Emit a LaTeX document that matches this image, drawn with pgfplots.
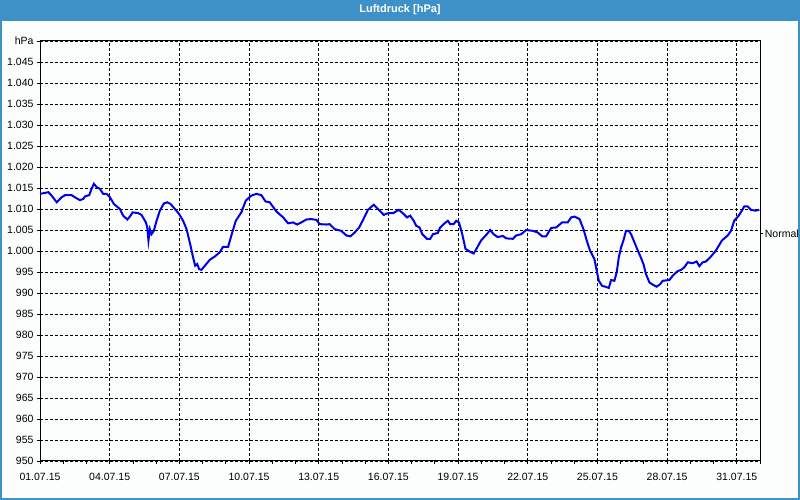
\documentclass[border=0pt]{standalone}
\usepackage{pgfplots}
\pgfplotsset{compat=1.18}
\usepackage{fontspec}
\setmainfont{Liberation Sans}
\definecolor{barblue}{RGB}{61,145,199}
\definecolor{bgcol}{RGB}{251,254,252}
\definecolor{lineblue}{RGB}{0,0,230}
\begin{document}
\begin{tikzpicture}
\fill[bgcol] (0bp,0bp) rectangle (800bp,500bp);
\fill[barblue] (0bp,479bp) rectangle (800bp,500bp);
\draw[barblue, line width=2bp] (1bp,1bp) rectangle (799bp,499bp);
\node[text=white, font=\fontsize{11bp}{13bp}\selectfont\bfseries] at (400bp,490bp) {Luftdruck [hPa]};
\begin{axis}[
 at={(40bp,39bp)}, anchor=south west,
 scale only axis, width=720bp, height=420bp,
 xmin=0, xmax=31, ymin=950, ymax=1050,
 xtick={0,3,...,30},
 xticklabels={01.07.15,04.07.15,07.07.15,10.07.15,13.07.15,16.07.15,19.07.15,22.07.15,25.07.15,28.07.15,31.07.15},
 minor xtick={0,1,...,31},
 ytick={950,955,...,1050},
 yticklabels={950,955,960,965,970,975,980,985,990,995,1.000,1.005,1.010,1.015,1.020,1.025,1.030,1.035,1.040,1.045,hPa},
 grid=major,
 major grid style={black, dash pattern=on 3bp off 2bp, line width=0.8bp},
 tick align=outside, major tick length=3bp, minor tick length=3bp,
 tick pos=left,
 tick style={black, line width=0.8bp},
 axis line style={black, line width=1bp},
 tick label style={font=\fontsize{10.5bp}{12bp}\selectfont},
 xticklabel style={yshift=-6bp},
 clip mode=individual,
]
\addplot[lineblue, line width=2bp, mark=none] table {
x y
0 1013.6
0.36 1014.0
0.5 1013.2
0.72 1011.6
0.93 1012.8
1.08 1013.3
1.36 1013.3
1.5 1012.8
1.72 1012.1
1.86 1012.4
1.94 1013.0
2.12 1013.3
2.22 1014.8
2.32 1016.0
2.44 1015.2
2.58 1014.8
2.72 1013.6
2.87 1013.6
3.01 1012.8
3.18 1011.2
3.44 1010.0
3.58 1008.4
3.76 1007.5
3.87 1008.2
3.99 1009.2
4.23 1009.0
4.37 1008.6
4.56 1006.8
4.62 1005.6
4.67 1002.5
4.73 1005.2
4.80 1004.0
4.90 1004.8
5.02 1007.2
5.16 1009.6
5.33 1011.3
5.48 1011.6
5.62 1011.2
5.81 1010.0
5.99 1008.8
6.16 1007.2
6.31 1005.2
6.48 1001.3
6.59 998.5
6.68 996.5
6.77 996.9
6.85 995.7
6.95 995.5
7.10 996.5
7.31 997.9
7.53 998.7
7.74 999.7
7.88 1001.0
8.10 1001.0
8.24 1003.7
8.43 1007.2
8.67 1009.2
8.86 1012.0
9.10 1013.2
9.32 1013.6
9.53 1013.3
9.71 1011.8
9.89 1011.6
10.18 1009.4
10.47 1008.0
10.68 1006.6
10.90 1006.8
11.07 1006.3
11.25 1006.8
11.47 1007.5
11.68 1007.6
11.90 1007.4
12.04 1006.4
12.33 1006.3
12.47 1006.4
12.69 1005.2
12.83 1005.0
12.97 1004.8
13.19 1003.7
13.36 1003.5
13.55 1004.4
13.74 1005.6
13.91 1007.4
14.12 1009.8
14.37 1011.0
14.59 1009.8
14.80 1008.6
14.98 1009.0
15.20 1009.0
15.45 1009.8
15.66 1008.8
15.80 1008.0
15.94 1008.4
16.09 1007.2
16.20 1006.0
16.34 1005.6
16.46 1004.0
16.66 1002.9
16.80 1002.9
16.92 1004.0
17.13 1004.3
17.23 1005.6
17.42 1006.6
17.56 1007.2
17.66 1006.4
17.81 1006.4
17.92 1007.2
18.04 1006.8
18.18 1004.0
18.32 1000.5
18.49 999.9
18.67 999.4
18.81 1000.7
18.99 1002.5
19.24 1004.0
19.38 1005.0
19.53 1004.0
19.71 1003.3
19.93 1003.6
20.07 1003.0
20.36 1002.9
20.50 1003.7
20.72 1004.0
20.93 1005.0
21.22 1004.8
21.43 1004.4
21.62 1003.5
21.79 1003.5
22.01 1005.5
22.22 1005.6
22.48 1006.8
22.72 1006.8
22.87 1008.0
23.01 1008.2
23.23 1007.6
23.40 1005.2
23.54 1002.5
23.68 1000.1
23.87 998.1
23.97 995.3
24.06 992.9
24.20 991.7
24.34 991.5
24.49 991.2
24.59 993.1
24.73 992.9
24.83 994.9
24.92 998.5
25.02 1000.9
25.12 1002.5
25.23 1004.8
25.35 1004.8
25.45 1004.0
25.59 1002.1
25.74 1000.1
25.88 998.3
25.98 996.9
26.09 994.5
26.24 992.5
26.38 992.0
26.55 991.5
26.70 992.1
26.81 992.9
27.10 993.1
27.24 994.1
27.45 995.2
27.60 995.5
27.74 996.1
27.89 997.3
28.10 997.1
28.27 997.5
28.39 996.4
28.53 997.3
28.67 997.5
28.89 998.7
29.10 1000.1
29.36 1002.5
29.61 1003.7
29.75 1004.8
29.89 1007.2
30.08 1008.4
30.22 1009.6
30.32 1010.6
30.47 1010.6
30.61 1009.8
30.80 1009.6
30.97 1009.8
};
\draw[black, line width=0.8bp] (axis cs:31,1004.2) -- ++(3bp,0bp) node[right, inner sep=1.5bp, font=\fontsize{10.5bp}{12bp}\selectfont] {Normal};
\end{axis}
\pgfresetboundingbox
\path (0bp,0bp) rectangle (800bp,500bp);
\end{tikzpicture}
\end{document}
